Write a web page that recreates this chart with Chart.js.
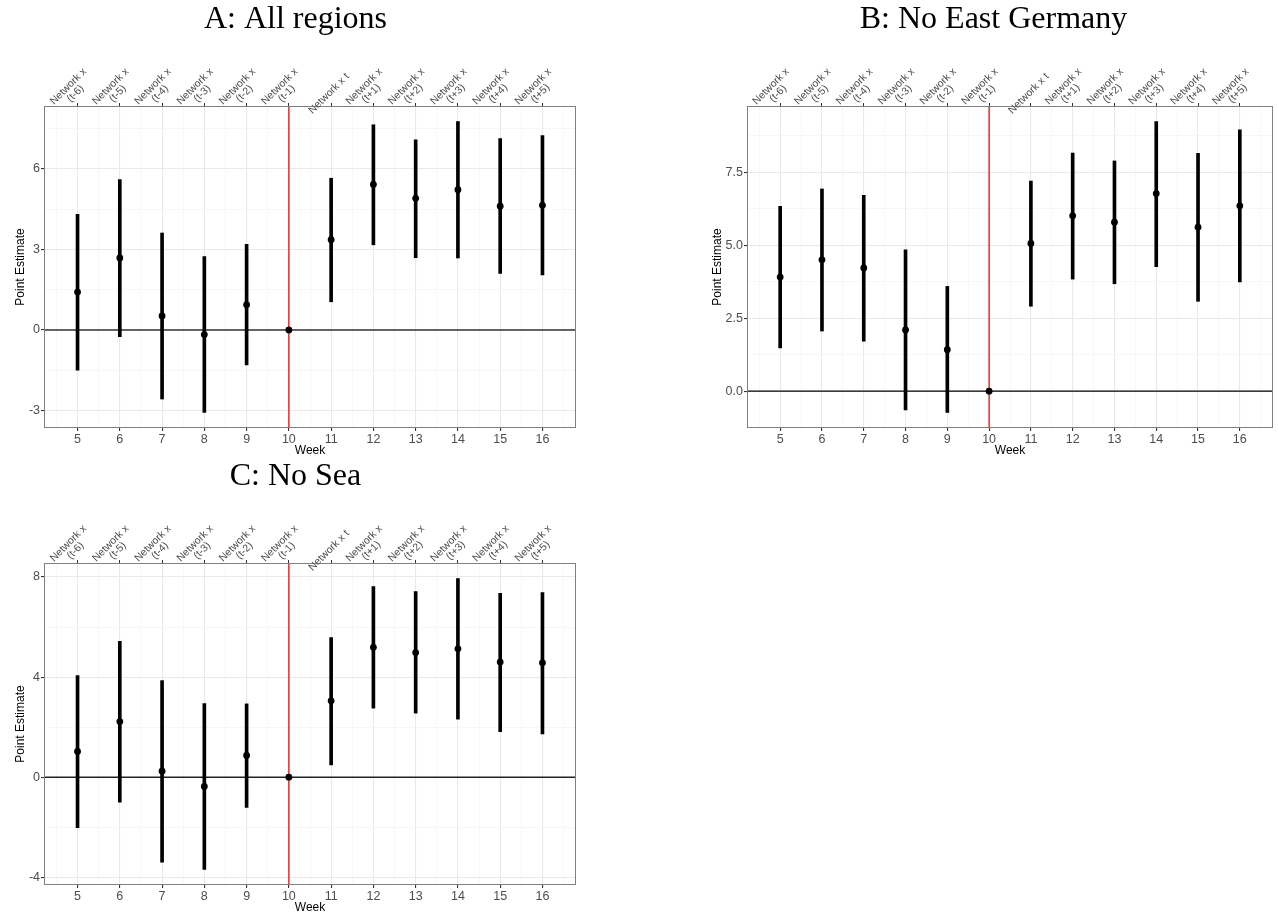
<!DOCTYPE html>
<html>
<head>
<meta charset="utf-8">
<script src="https://cdn.jsdelivr.net/npm/chart.js@4.4.1/dist/chart.umd.min.js"></script>
<style>
  html, body { margin: 0; padding: 0; background: #ffffff; width: 1278px; height: 915px; overflow: hidden; }
  canvas { position: absolute; }
</style>
</head>
<body>
<canvas id="panelA" width="579" height="457" style="left:0px; top:0px;"></canvas>
<canvas id="panelB" width="576" height="457" style="left:700px; top:0px;"></canvas>
<canvas id="panelC" width="579" height="457" style="left:0px; top:457px;"></canvas>
<script>
// ---- data ---------------------------------------------------------------
const weeks = [5, 6, 7, 8, 9, 10, 11, 12, 13, 14, 15, 16];
const minorWeeks = [4.5, 5.5, 6.5, 7.5, 8.5, 9.5, 10.5, 11.5, 12.5, 13.5, 14.5, 15.5, 16.5];
const eventWeek = 10;

// labels of the upper axis, one array of lines per week
const topLabels = [
  ['Network x', '(t-6)'], ['Network x', '(t-5)'], ['Network x', '(t-4)'],
  ['Network x', '(t-3)'], ['Network x', '(t-2)'], ['Network x', '(t-1)'],
  ['Network x t'],
  ['Network x', '(t+1)'], ['Network x', '(t+2)'], ['Network x', '(t+3)'],
  ['Network x', '(t+4)'], ['Network x', '(t+5)']
];

// A: All regions
const estA  = [1.41, 2.68, 0.52, -0.17, 0.94, 0, 3.36, 5.42, 4.90, 5.22, 4.61, 4.64];
const lowA  = [-1.50, -0.25, -2.57, -3.07, -1.30, null, 1.05, 3.17, 2.69, 2.68, 2.11, 2.05];
const highA = [4.31, 5.60, 3.61, 2.73, 3.19, null, 5.65, 7.64, 7.08, 7.76, 7.13, 7.24];
const yMajorA = [-3, 0, 3, 6];
const yMinorA = [-1.5, 1.5, 4.5, 7.5];
const yLabelsA = ['-3', '0', '3', '6'];

// B: No East Germany
const estB  = [3.91, 4.50, 4.22, 2.10, 1.42, 0, 5.06, 6.01, 5.79, 6.77, 5.62, 6.35];
const lowB  = [1.48, 2.06, 1.71, -0.64, -0.73, null, 2.91, 3.84, 3.68, 4.27, 3.08, 3.74];
const highB = [6.33, 6.93, 6.71, 4.84, 3.59, null, 7.20, 8.16, 7.89, 9.24, 8.15, 8.96];
const yMajorB = [0, 2.5, 5, 7.5];
const yMinorB = [1.25, 3.75, 6.25, 8.75];
const yLabelsB = ['0.0', '2.5', '5.0', '7.5'];

// C: No Sea
const estC  = [1.03, 2.22, 0.24, -0.37, 0.87, 0, 3.05, 5.19, 4.98, 5.13, 4.60, 4.57];
const lowC  = [-2.02, -1.00, -3.40, -3.69, -1.21, null, 0.49, 2.76, 2.56, 2.32, 1.82, 1.73];
const highC = [4.06, 5.43, 3.86, 2.94, 2.93, null, 5.58, 7.62, 7.42, 7.94, 7.35, 7.38];
const yMajorC = [-4, 0, 4, 8];
const yMinorC = [-2, 2, 6];
const yLabelsC = ['-4', '0', '4', '8'];

// ---- styling ------------------------------------------------------------
const SANS = "'Liberation Sans', Arial, Helvetica, sans-serif";
const SERIF = "'Liberation Serif', 'Times New Roman', serif";
const TICK_TEXT = '#4d4d4d';
const MAJOR_GRID = '#e9e9e9';
const MINOR_GRID = '#f3f3f3';
const TICK_MARK = '#333333';
const X_MIN = 4.23, X_MAX = 16.77;

// y range padded by 5% of the data span on both sides
function paddedRange(est, low, high) {
  const vals = est.concat(low, high).filter(v => v !== null);
  const mn = Math.min(...vals), mx = Math.max(...vals);
  const pad = (mx - mn) * 0.05;
  return [mn - pad, mx + pad];
}

// reference lines, panel frame and the slanted labels of the upper axis
const panelDecor = {
  id: 'panelDecor',
  beforeDatasetsDraw(chart, args, opts) {
    const { ctx, chartArea: a, scales } = chart;
    const x = scales.x, y = scales.y;
    ctx.save();
    ctx.beginPath();
    ctx.rect(a.left, a.top, a.right - a.left, a.bottom - a.top);
    ctx.clip();
    const y0 = y.getPixelForValue(0);
    ctx.strokeStyle = opts.zeroColor;
    ctx.lineWidth = opts.zeroWidth;
    ctx.beginPath();
    ctx.moveTo(a.left, y0);
    ctx.lineTo(a.right, y0);
    ctx.stroke();
    const xe = x.getPixelForValue(eventWeek);
    ctx.strokeStyle = '#ee1c1c';
    ctx.lineWidth = 1.4;
    ctx.beginPath();
    ctx.moveTo(xe, a.top);
    ctx.lineTo(xe, a.bottom);
    ctx.stroke();
    ctx.restore();
  },
  afterDraw(chart) {
    const { ctx, chartArea: a, scales } = chart;
    ctx.save();
    ctx.strokeStyle = '#808080';
    ctx.lineWidth = 1;
    ctx.strokeRect(Math.round(a.left) - 0.5, Math.round(a.top) - 0.5,
                   Math.round(a.right - a.left) + 1, Math.round(a.bottom - a.top) + 1);

    const top = scales.x2;
    ctx.fillStyle = TICK_TEXT;
    ctx.font = '10.5px ' + SANS;
    ctx.textAlign = 'center';
    ctx.textBaseline = 'middle';
    weeks.forEach((w, i) => {
      const px = top.getPixelForValue(w);
      const lines = topLabels[i];
      ctx.save();
      ctx.translate(px, a.top);
      ctx.rotate(-Math.PI / 4);
      lines.forEach((line, k) => {
        ctx.fillText(line, 8, -11 - (lines.length - 1 - k) * 10);
      });
      ctx.restore();
    });
    ctx.restore();
  }
};

function makePanel(id, title, est, low, high, yMajor, yMinor, yLabels, geo) {
  const [yMin, yMax] = paddedRange(est, low, high);
  const intervals = [];
  weeks.forEach((w, i) => {
    if (low[i] !== null && high[i] !== null) intervals.push({ x: w, y: [low[i], high[i]] });
  });
  const points = weeks.map((w, i) => ({ x: w, y: est[i] }));
  const isMajorX = c => c.tick && weeks.includes(c.tick.value);
  const isMajorY = c => c.tick && yMajor.includes(c.tick.value);

  return new Chart(document.getElementById(id), {
    type: 'scatter',
    data: {
      datasets: [
        {
          type: 'scatter', data: points, order: 0,
          xAxisID: 'x', yAxisID: 'y',
          pointRadius: 3.4, pointBackgroundColor: '#000', pointBorderColor: '#000',
          pointBorderWidth: 0, showLine: false
        },
        {
          type: 'bar', data: intervals, order: 1,
          xAxisID: 'x', yAxisID: 'y',
          backgroundColor: '#000', borderWidth: 0, barThickness: 3, grouped: false
        }
      ]
    },
    options: {
      responsive: false,
      animation: false,
      devicePixelRatio: 1,
      events: [],
      layout: { padding: { left: geo.padLeft, right: 0, top: 0, bottom: 0 } },
      plugins: {
        legend: { display: false },
        tooltip: { enabled: false },
        title: {
          display: true, text: title, color: '#000',
          font: { family: SERIF, size: 32, weight: 'normal', lineHeight: 1 },
          padding: { top: 4, bottom: 0 }
        },
        panelDecor: { zeroColor: geo.zeroColor, zeroWidth: geo.zeroWidth }
      },
      scales: {
        x: {
          type: 'linear', position: 'bottom', min: X_MIN, max: X_MAX, offset: false,
          afterBuildTicks: s => { s.ticks = weeks.concat(minorWeeks).sort((p, q) => p - q).map(v => ({ value: v })); },
          afterFit: s => { s.height = geo.bottomH; },
          ticks: {
            autoSkip: false, maxRotation: 0, padding: 2, color: TICK_TEXT,
            font: { family: SANS, size: 12.5, lineHeight: 1 },
            callback: v => (weeks.includes(v) ? String(v) : '')
          },
          grid: {
            offset: false, drawTicks: true, tickLength: 4,
            color: c => (isMajorX(c) ? MAJOR_GRID : MINOR_GRID),
            lineWidth: c => (isMajorX(c) ? 1.1 : 0.7),
            tickColor: c => (isMajorX(c) ? TICK_MARK : 'rgba(0,0,0,0)')
          },
          border: { display: false },
          title: {
            display: true, text: 'Week', color: '#000',
            font: { family: SANS, size: 12, lineHeight: 1 }, padding: { top: 0, bottom: 0 }
          }
        },
        x2: {
          type: 'linear', axis: 'x', position: 'top', min: X_MIN, max: X_MAX, offset: false,
          afterBuildTicks: s => { s.ticks = weeks.map(v => ({ value: v })); },
          afterFit: s => { s.height = geo.topH; },
          ticks: { display: false },
          grid: {
            offset: false, drawOnChartArea: false, drawTicks: true, tickLength: 4,
            color: 'rgba(0,0,0,0)', tickColor: TICK_MARK
          },
          border: { display: false }
        },
        y: {
          type: 'linear', position: 'left', min: yMin, max: yMax,
          afterBuildTicks: s => { s.ticks = yMajor.concat(yMinor).filter(v => v >= yMin && v <= yMax).sort((p, q) => p - q).map(v => ({ value: v })); },
          afterFit: s => { s.width = geo.yW; },
          ticks: {
            autoSkip: false, padding: 1, color: TICK_TEXT,
            font: { family: SANS, size: 12.5, lineHeight: 1 },
            callback: v => { const k = yMajor.indexOf(v); return k < 0 ? '' : yLabels[k]; }
          },
          grid: {
            drawTicks: true, tickLength: 4,
            color: c => (isMajorY(c) ? MAJOR_GRID : MINOR_GRID),
            lineWidth: c => (isMajorY(c) ? 1.1 : 0.7),
            tickColor: c => (isMajorY(c) ? TICK_MARK : 'rgba(0,0,0,0)')
          },
          border: { display: false },
          title: {
            display: true, text: 'Point Estimate', color: '#000',
            font: { family: SANS, size: 12, lineHeight: 1 }, padding: { top: geo.yTitlePad, bottom: 0 }
          }
        }
      }
    },
    plugins: [panelDecor]
  });
}

makePanel('panelA', 'A: All regions', estA, lowA, highA, yMajorA, yMinorA, yLabelsA,
  { padLeft: 12, yW: 33, topH: 71, bottomH: 30, yTitlePad: 3, zeroColor: '#333333', zeroWidth: 1.6 });
makePanel('panelB', 'B: No East Germany', estB, lowB, highB, yMajorB, yMinorB, yLabelsB,
  { padLeft: 11, yW: 37, topH: 71, bottomH: 30, yTitlePad: 1, zeroColor: '#000000', zeroWidth: 1.2 });
makePanel('panelC', 'C: No Sea', estC, lowC, highC, yMajorC, yMinorC, yLabelsC,
  { padLeft: 12, yW: 33, topH: 71, bottomH: 30, yTitlePad: 3, zeroColor: '#222222', zeroWidth: 1.5 });
</script>
</body>
</html>
